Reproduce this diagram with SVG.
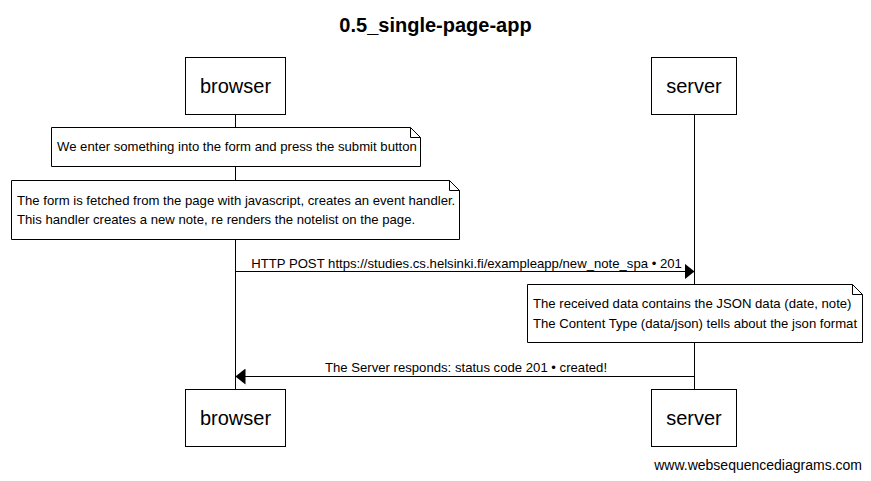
<svg xmlns="http://www.w3.org/2000/svg" width="871" height="481" viewBox="0 0 871 481">
<defs>
<style>
.box{fill:#fff;stroke:#000;stroke-width:1}
.lt{font-family:"Liberation Sans",Arial,sans-serif;font-size:20px;text-anchor:middle;fill:#000}
.nt{font-family:"Liberation Sans",Arial,sans-serif;font-size:13.15px;fill:#000}
.note{fill:#fff;stroke:#000;stroke-width:1}
.line{stroke:#000;stroke-width:1;fill:none}
</style>
<marker id="ah" viewBox="0 0 10 16" markerWidth="10" markerHeight="16" refX="10" refY="8" orient="auto" markerUnits="userSpaceOnUse">
<path d="M0,0 L10,8 L0,16 Z" fill="#000"/>
</marker>
</defs>
<rect width="871" height="481" fill="#fff"/>
<text x="435.5" y="32" font-family="Liberation Sans,Arial,sans-serif" font-size="20" font-weight="bold" text-anchor="middle">0.5_single-page-app</text>
<g id="lifelines">
<line class="line" x1="235.5" y1="114" x2="235.5" y2="389"/>
<line class="line" x1="694.5" y1="114" x2="694.5" y2="389"/>
</g>
<g id="browser-top"><rect class="box" x="185.5" y="57.5" width="100" height="57"/><text class="lt" x="235.5" y="93">browser</text></g>
<g id="server-top"><rect class="box" x="651.5" y="57.5" width="85" height="57"/><text class="lt" x="694" y="93">server</text></g>
<g id="browser-bottom"><rect class="box" x="185.5" y="389.5" width="100" height="57"/><text class="lt" x="235.5" y="425">browser</text></g>
<g id="server-bottom"><rect class="box" x="651.5" y="389.5" width="85" height="57"/><text class="lt" x="694" y="425">server</text></g>
<g id="note1">
<path class="note" d="M51.5,127.5 H410.5 L420.5,137.5 V166.5 H51.5 Z"/>
<path class="line" d="M410.5,127.5 V137.5 H420.5"/>
<text class="nt" x="57" y="151">We enter something into the form and press the submit button</text>
</g>
<g id="note2">
<path class="note" d="M11.5,180.5 H449.5 L459.5,190.5 V239.5 H11.5 Z"/>
<path class="line" d="M449.5,180.5 V190.5 H459.5"/>
<text class="nt" x="17" y="205">The form is fetched from the page with javascript, creates an event handler.</text>
<text class="nt" x="17" y="224">This handler creates a new note, re renders the notelist on the page.</text>
</g>
<g id="note3">
<path class="note" d="M527.5,284.5 H852.5 L862.5,294.5 V342.5 H527.5 Z"/>
<path class="line" d="M852.5,284.5 V294.5 H862.5"/>
<text class="nt" x="533" y="308">The received data contains the JSON data (date, note)</text>
<text class="nt" x="533" y="328">The Content Type (data/json) tells about the json format</text>
</g>
<g id="connectors">
<line class="line" x1="235.5" y1="271.5" x2="694.5" y2="271.5" marker-end="url(#ah)"/>
<text class="nt" x="466.5" y="268" text-anchor="middle">HTTP POST https://studies.cs.helsinki.fi/exampleapp/new_note_spa • 201</text>
<line class="line" x1="694.5" y1="376.5" x2="235.5" y2="376.5" marker-end="url(#ah)"/>
<text class="nt" x="466" y="372" text-anchor="middle">The Server responds: status code 201 • created!</text>
</g>
<text x="862" y="470" font-family="Liberation Sans,Arial,sans-serif" font-size="14" text-anchor="end">www.websequencediagrams.com</text>
</svg>
